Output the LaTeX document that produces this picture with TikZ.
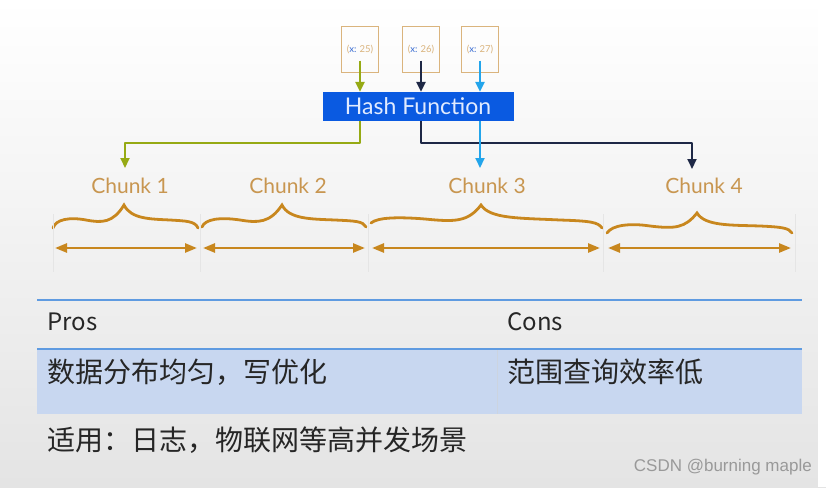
\documentclass[tikz,border=0pt]{standalone}
\usepackage{fontspec}
\setmainfont{Lato}
\newfontfamily\cjk{Noto Sans CJK SC}
\newfontfamily\wmfont{Liberation Sans}
\usetikzlibrary{arrows.meta}

\definecolor{keytan}{RGB}{218,180,125}
\definecolor{keyblue}{RGB}{60,110,210}
\definecolor{olivegreen}{RGB}{150,170,20}
\definecolor{navyline}{RGB}{30,40,70}
\definecolor{skyline}{RGB}{35,165,235}
\definecolor{hashblue}{RGB}{10,90,225}
\definecolor{hashtext}{RGB}{225,235,255}
\definecolor{chunkorange}{RGB}{200,135,30}
\definecolor{chunktan}{RGB}{200,150,80}
\definecolor{tableline}{RGB}{95,155,225}
\definecolor{rowblue}{RGB}{200,215,240}
\definecolor{bggray}{RGB}{228,228,228}

\tikzset{
  keybox/.style={draw=keytan, line width=1pt, minimum width=37pt, minimum height=45pt, inner sep=0pt, font=\fontsize{9.5}{11}\selectfont},
  hashbox/.style={fill=hashblue, text=hashtext, minimum width=191pt, minimum height=29pt, inner sep=0pt, font=\fontsize{23}{26}\selectfont},
  feed/.style={line width=2.5pt, -{Triangle[length=10pt,width=9pt]}},
  chunklabel/.style={text=chunktan, inner sep=0pt, font=\fontsize{21}{24}\selectfont},
  chunkbrace/.style={draw=chunkorange, line width=2.8pt, line cap=round},
  span/.style={draw=chunkorange, line width=2.5pt, {Triangle[length=12pt,width=9pt]}-{Triangle[length=12pt,width=9pt]}},
  guide/.style={draw=black!10, line width=0.8pt},
  cell/.style={inner sep=0pt, anchor=west, text=black!85, font=\cjk\fontsize{24}{28}\selectfont},
  cjkcell/.style={cell, font=\cjk\fontsize{28}{32}\selectfont}
}

\begin{document}
\begin{tikzpicture}[x=1pt,y=1pt,yscale=-1]
\useasboundingbox (0,0) rectangle (826,487);

%Background
\shade[top color=white, middle color=white, bottom color=bggray] (0,0) rectangle (826,487);
\fill[white] (818,0) rectangle (826,487);

% Key boxes
\node[keybox] (k25) at (360,49.5) {{\color{keytan}(}{\color{keyblue}x:} {\color{keytan}25)}};
\node[keybox] (k26) at (421,49.5) {{\color{keytan}(}{\color{keyblue}x:} {\color{keytan}26)}};
\node[keybox] (k27) at (480,49.5) {{\color{keytan}(}{\color{keyblue}x:} {\color{keytan}27)}};

% Hash node
\node[hashbox] (hash) at (418,106.5) {Hash Function};

% Arrows into the hash
\draw[feed, olivegreen] ([yshift=-12pt]k25.south) -- (k25 |- hash.north);
\draw[feed, navyline] ([yshift=-12pt]k26.south) -- (k26 |- hash.north);
\draw[feed, skyline] ([yshift=-12pt]k27.south) -- (k27 |- hash.north);

% Chunk labels
\node[chunklabel] (c1) at (130,186) {Chunk 1};
\node[chunklabel] (c2) at (288,186) {Chunk 2};
\node[chunklabel] (c3) at (487,186) {Chunk 3};
\node[chunklabel] (c4) at (704,186) {Chunk 4};

\coordinate (t1) at (125,168);
\coordinate (t3) at (480,168);
\coordinate (t4) at (692,169);

% Arrows out of the hash
\draw[feed, olivegreen, line width=2pt, line join=round] (hash.south -| k25) -- ++(0,22) -| (t1);
\draw[feed, navyline, line width=2pt, line join=round] (hash.south -| k26) -- ++(0,22) -| (t4);
\draw[feed, skyline, line width=2pt] (hash.south -| k27) -- (t3);

%Curve Lines
\draw[chunkbrace] (53,228) .. controls (56,219) and (70,217) .. (86,220) .. controls (102,223) and (113,223) .. (124,205) .. controls (131,219) and (150,219) .. (170,220) .. controls (186,221) and (195,221) .. (198,228);
%Curve Lines
\draw[chunkbrace] (202,227) .. controls (205,219) and (220,217) .. (240,220) .. controls (258,223) and (270,223) .. (282,205) .. controls (289,219) and (310,219) .. (335,220) .. controls (355,221) and (363,221) .. (366,227);
%Curve Lines
\draw[chunkbrace] (371,223) .. controls (378,217) and (400,217) .. (425,219) .. controls (455,222) and (468,222) .. (481,205) .. controls (490,219) and (520,218) .. (560,220) .. controls (590,221) and (598,222) .. (602,228);
%Curve Lines
\draw[chunkbrace] (607,233) .. controls (612,225) and (630,223) .. (650,226) .. controls (675,229) and (685,228) .. (697,213) .. controls (705,226) and (730,225) .. (760,226) .. controls (782,227) and (789,228) .. (792,233);

% Chunk spans
\coordinate (g0) at (53,248);
\coordinate (g1) at (200,248);
\coordinate (g2) at (368,248);
\coordinate (g3) at (603,248);
\coordinate (g4) at (795,248);

\draw[guide] ([yshift=-34pt]g0) -- ([yshift=24pt]g0);
\draw[guide] ([yshift=-34pt]g1) -- ([yshift=24pt]g1);
\draw[guide] ([yshift=-34pt]g2) -- ([yshift=24pt]g2);
\draw[guide] ([yshift=-34pt]g3) -- ([yshift=24pt]g3);
\draw[guide] ([yshift=-34pt]g4) -- ([yshift=24pt]g4);

\draw[span, shorten <=2pt, shorten >=3pt] (g0) -- (g1);
\draw[span, shorten <=3pt, shorten >=3pt] (g1) -- (g2);
\draw[span, shorten <=4pt, shorten >=3pt] (g2) -- (g3);
\draw[span, shorten <=5pt, shorten >=4pt] (g3) -- (g4);

% Table
\fill[rowblue] (37,349) rectangle (802,414);
\draw[tableline, line width=1.5pt] (37,300) -- (802,300);
\draw[tableline, line width=2.5pt] (37,349) -- (802,349);
\draw[draw=rowblue!85!black!60, line width=0.6pt] (497,350) -- (497,414);

\node[cell] (pros) at (47,322) {Pros};
\node[cell] (cons) at (507,322) {Cons};
\node[cjkcell] (prosrow) at (47,372) {数据分布均匀，写优化};
\node[cjkcell] (consrow) at (507,372) {范围查询效率低};
\node[cjkcell] (usage) at (47,440) {适用：日志，物联网等高并发场景};

% Watermark
\node[inner sep=0pt, anchor=east, text=black!40, font=\wmfont\fontsize{17}{20}\selectfont] (mark) at (812,467) {CSDN @burning maple};

\end{tikzpicture}
\end{document}
